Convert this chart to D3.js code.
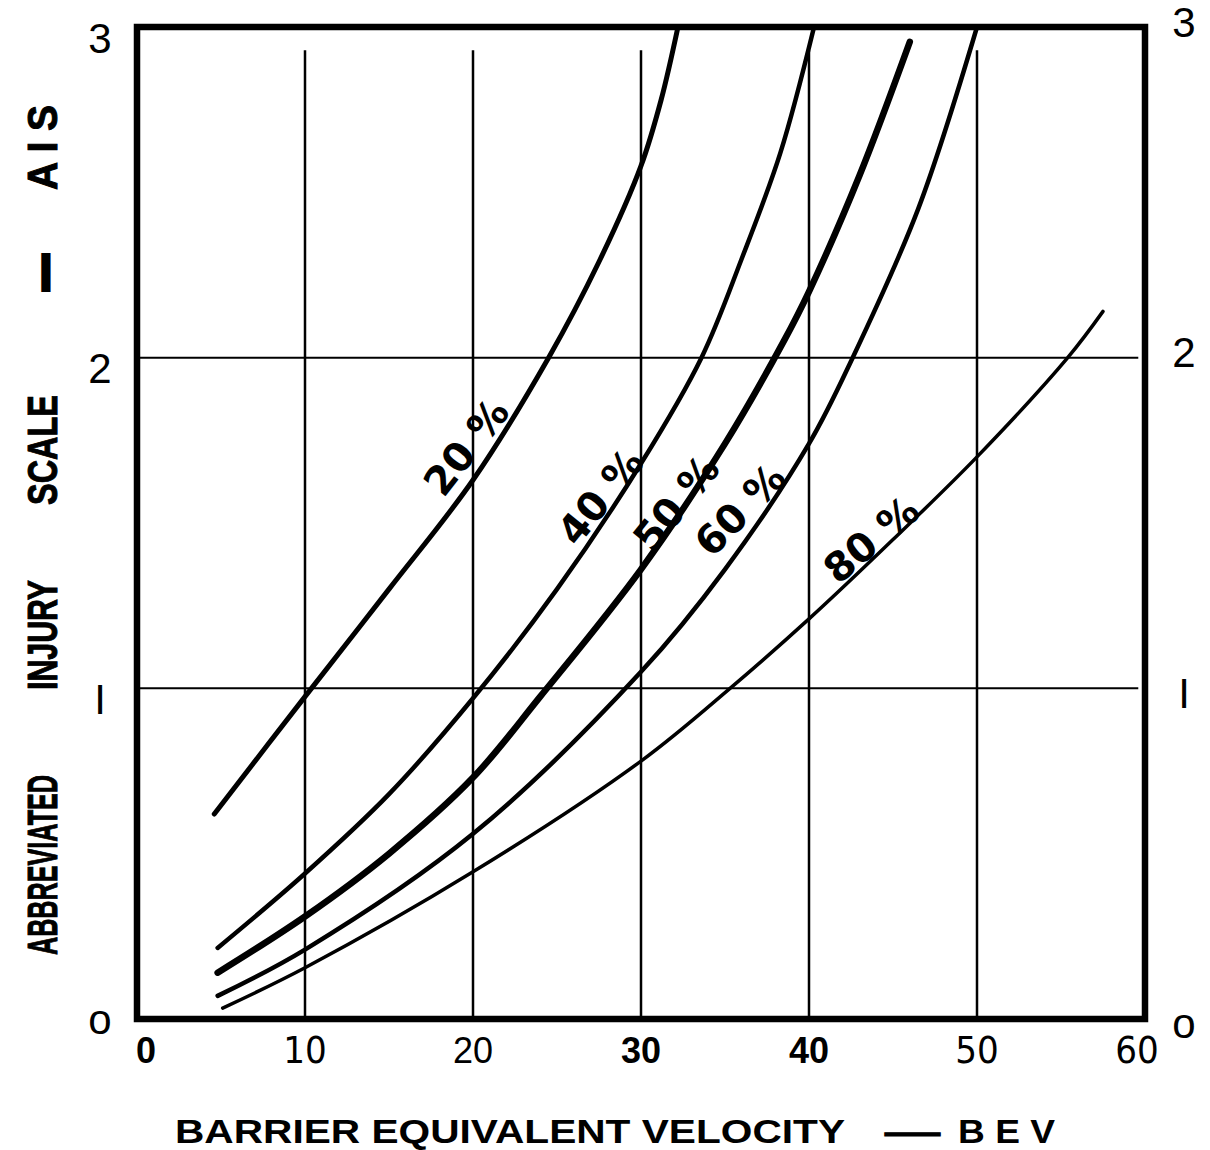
<!DOCTYPE html>
<html>
<head>
<meta charset="utf-8">
<script src="https://cdn.jsdelivr.net/npm/d3@7"></script>
<style>
  html, body { margin: 0; padding: 0; background: #fff; }
  svg { display: block; }
</style>
</head>
<body>
<svg id="chart" width="1210" height="1150"></svg>
<script>
// ---- data ----
const xTicks = [0, 10, 20, 30, 40, 50, 60];
const xTickLabels = ["0", "10", "20", "30", "40", "50", "60"];
const yTicks = [0, 1, 2, 3];
const yTickLabels = ["o", "I", "2", "3"];
const seriesNames = ["20 %", "40 %", "50 %", "60 %", "80 %"];

const p20x = [4.6, 10, 15, 20, 24.5, 27.5, 30, 31.2, 32.2];
const p20y = [0.62, 0.975, 1.30, 1.63, 2.0, 2.29, 2.58, 2.78, 3.0];

const p40x = [4.8, 10, 15, 20, 25, 30, 33.6, 36.0, 38.3, 40.3];
const p40y = [0.215, 0.44, 0.68, 0.97, 1.30, 1.68, 2.0, 2.30, 2.62, 3.0];

const p50x = [4.8, 10, 15, 20, 24, 30, 35, 38.5, 40, 43, 46.0];
const p50y = [0.14, 0.31, 0.50, 0.73, 0.975, 1.36, 1.74, 2.05, 2.2, 2.55, 2.955];

const p60x = [4.8, 10, 20, 30, 35, 40, 42.6, 46.5, 50.0];
const p60y = [0.07, 0.21, 0.56, 1.05, 1.36, 1.74, 2.0, 2.45, 3.0];

const p80x = [5.1, 10, 20, 30, 35.3, 40, 45, 50, 55.4, 57.5];
const p80y = [0.033, 0.155, 0.445, 0.78, 1.0, 1.21, 1.45, 1.70, 2.0, 2.14];

// label anchor points in data units and angle (deg)
const labelX = [19.6, 27.6, 32.1, 35.9, 43.7];
const labelY = [1.73, 1.58, 1.56, 1.54, 1.45];
const labelAngle = [-52, -51, -51, -46, -40];

// ---- styles (not data) ----
const strokeW = [5, 4.5, 6.5, 4.5, 3.5];
const xTickStyle = [
  {w: "bold", f: "'Liberation Sans', Arial, sans-serif", s: 36},
  {w: "normal", f: "'DejaVu Sans Condensed', 'Liberation Sans Narrow', sans-serif", s: 38},
  {w: "normal", f: "'Liberation Sans', Arial, sans-serif", s: 36},
  {w: "bold", f: "'Liberation Sans', Arial, sans-serif", s: 36},
  {w: "bold", f: "'Liberation Sans', Arial, sans-serif", s: 36},
  {w: "normal", f: "'DejaVu Sans Condensed', 'Liberation Sans Narrow', sans-serif", s: 38},
  {w: "normal", f: "'DejaVu Sans Condensed', 'Liberation Sans Narrow', sans-serif", s: 38}
];

const svg = d3.select("#chart");
const x = d3.scaleLinear().domain([0, 60]).range([137, 1145]);
const y = d3.scaleLinear().domain([0, 3]).range([1019, 27]);

// gridlines
const grid = svg.append("g").attr("stroke", "#000");
grid.selectAll("line.v").data(xTicks.filter(v => v > 0 && v < 60)).enter()
  .append("line")
  .attr("x1", d => x(d)).attr("x2", d => x(d))
  .attr("y1", y(2.93)).attr("y2", y(0))
  .attr("stroke-width", 2.5);
grid.selectAll("line.h").data(yTicks.filter(v => v > 0 && v < 3)).enter()
  .append("line")
  .attr("x1", x(0)).attr("x2", x(59.6))
  .attr("y1", d => y(d)).attr("y2", d => y(d))
  .attr("stroke-width", 2);

// frame
svg.append("rect")
  .attr("x", x(0)).attr("y", y(3))
  .attr("width", x(60) - x(0)).attr("height", y(0) - y(3))
  .attr("fill", "none").attr("stroke", "#000").attr("stroke-width", 6.5);

// curves
const series = [
  [p20x, p20y], [p40x, p40y], [p50x, p50y], [p60x, p60y], [p80x, p80y]
];
const line = d3.line().x(d => x(d[0])).y(d => y(d[1])).curve(d3.curveCatmullRom.alpha(0.5));
series.forEach((s, i) => {
  const pts = s[0].map((v, j) => [v, s[1][j]]);
  svg.append("path")
    .attr("d", line(pts))
    .attr("fill", "none")
    .attr("stroke", "#000")
    .attr("stroke-width", strokeW[i])
    .attr("stroke-linecap", "round");
});

// curve labels
seriesNames.forEach((name, i) => {
  svg.append("text")
    .attr("transform", `translate(${x(labelX[i])},${y(labelY[i])}) rotate(${labelAngle[i]})`)
    .attr("text-anchor", "middle")
    .attr("dominant-baseline", "central")
    .attr("font-family", "'DejaVu Sans', sans-serif")
    .attr("font-weight", "bold")
    .attr("font-size", 40)
    .text(name);
});

// y tick labels (left and right)
yTicks.forEach((v, i) => {
  svg.append("text")
    .attr("x", 100).attr("y", y(v) + (v === 0 ? 0 : 11))
    .attr("text-anchor", "middle").attr("dominant-baseline", "central")
    .attr("font-family", "'Liberation Sans', Arial, sans-serif")
    .attr("font-size", 42)
    .text(yTickLabels[i]);
  svg.append("text")
    .attr("x", 1184).attr("y", y(v) + (v === 0 ? 4 : (v === 1 ? 5 : -5)))
    .attr("text-anchor", "middle").attr("dominant-baseline", "central")
    .attr("font-family", "'Liberation Sans', Arial, sans-serif")
    .attr("font-size", 42)
    .text(yTickLabels[i]);
});

// x tick labels
xTicks.forEach((v, i) => {
  const st = xTickStyle[i];
  svg.append("text")
    .attr("x", x(v) + (v === 0 ? 9 : (v === 60 ? -8 : 0)))
    .attr("y", 1050)
    .attr("text-anchor", "middle").attr("dominant-baseline", "central")
    .attr("font-family", st.f).attr("font-weight", st.w).attr("font-size", st.s)
    .text(xTickLabels[i]);
});

// x axis title
const xt = svg.append("g")
  .attr("font-family", "'Liberation Sans', Arial, sans-serif")
  .attr("font-weight", "bold").attr("font-size", 34);
xt.append("text").attr("x", 175).attr("y", 1143)
  .attr("textLength", 670).attr("lengthAdjust", "spacingAndGlyphs")
  .text("BARRIER EQUIVALENT VELOCITY");
xt.append("text").attr("x", 885).attr("y", 1143)
  .attr("textLength", 55).attr("lengthAdjust", "spacingAndGlyphs")
  .attr("stroke", "#000").attr("stroke-width", 1)
  .text("—");
xt.append("text").attr("x", 958).attr("y", 1143)
  .attr("textLength", 97).attr("lengthAdjust", "spacingAndGlyphs")
  .text("B E V");

// y axis title: segments (text, bottom y, top y)
const ySegText = ["ABBREVIATED", "INJURY", "SCALE", "—", "A I S"];
const ySegBottom = [955, 690, 505, 290, 190];
const ySegTop = [775, 580, 395, 255, 105];
const yt = svg.append("g")
  .attr("font-family", "'Liberation Sans', Arial, sans-serif")
  .attr("font-weight", "bold").attr("font-size", 42)
  .attr("stroke", "#000");
ySegText.forEach((t, i) => {
  yt.append("text")
    .attr("transform", `translate(57,${ySegBottom[i]}) rotate(-90)`)
    .attr("textLength", ySegBottom[i] - ySegTop[i])
    .attr("lengthAdjust", "spacingAndGlyphs")
    .attr("stroke-width", t === "—" ? 5 : 1)
    .text(t);
});
</script>
</body>
</html>
